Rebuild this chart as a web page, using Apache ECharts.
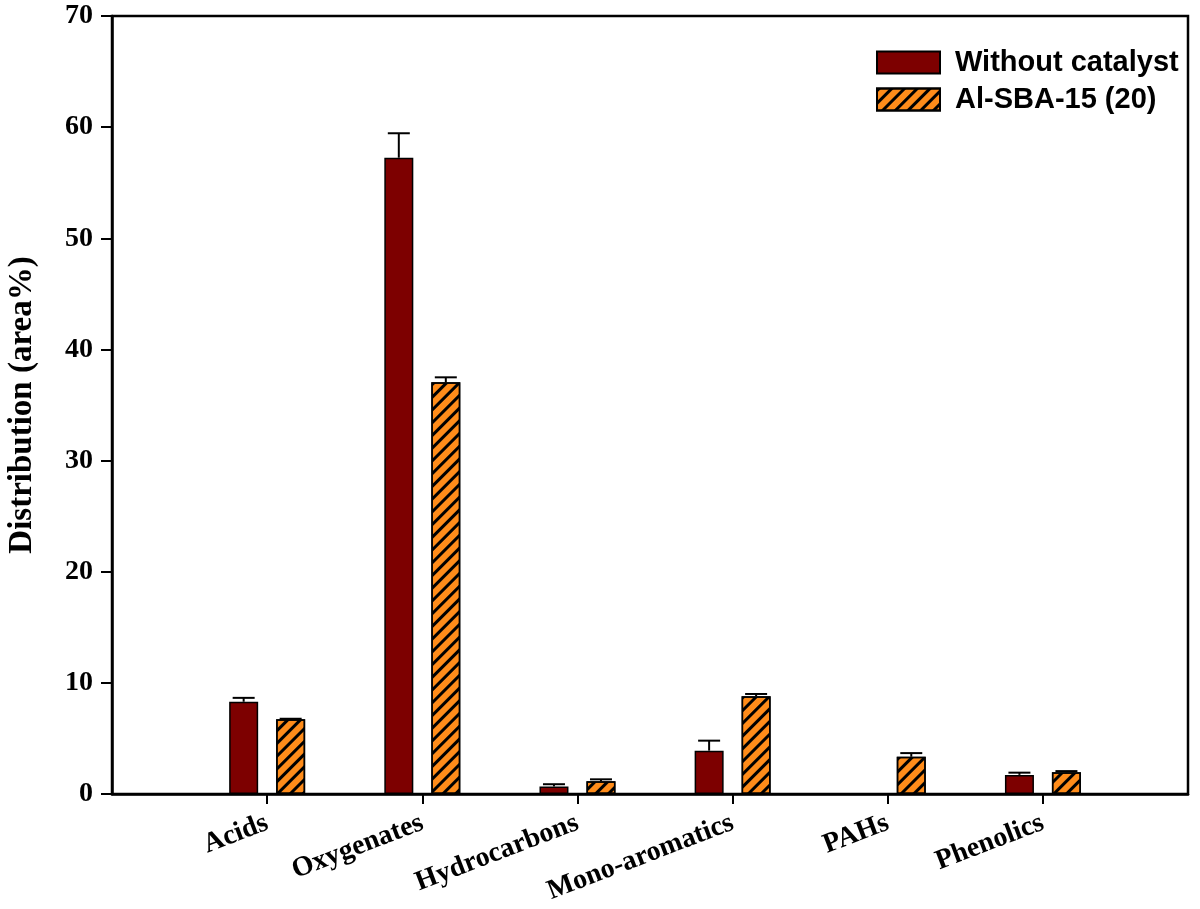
<!DOCTYPE html>
<html>
<head>
<meta charset="utf-8">
<script src="https://cdn.jsdelivr.net/npm/echarts@6/dist/echarts.min.js"></script>
<style>html,body{margin:0;padding:0;background:#fff}#c{width:1200px;height:909px}</style>
</head>
<body>
<div id="c"></div>
<script>
const categories = ['Acids', 'Oxygenates', 'Hydrocarbons', 'Mono-aromatics', 'PAHs', 'Phenolics'];
const seriesNames = ['Without catalyst', 'Al-SBA-15 (20)'];
const withoutCatalyst = [8.3, 57.25, 0.68, 3.9, 0, 1.72];
const withoutCatalystErr = [0.35, 2.2, 0.2, 0.9, 0, 0.2];
const alSba15 = [6.72, 37.04, 1.14, 8.8, 3.35, 1.96];
const alSba15Err = [0.05, 0.45, 0.18, 0.2, 0.33, 0.1];
const yTicks = [0, 10, 20, 30, 40, 50, 60, 70];

const BAR_W = 29, OFFSET = 23.5;
const positions = categories.map((c, i) => i + 1);

function barData(vals) { return vals.map((v, i) => [positions[i], v]); }
function errData(vals, errs) { return vals.map((v, i) => [positions[i], v, errs[i]]); }

function errRender(offset) {
  return function (params, api) {
    const err = api.value(2);
    if (!err) return;
    const p0 = api.coord([api.value(0), api.value(1)]);
    const p1 = api.coord([api.value(0), api.value(1) + err]);
    const cx = p0[0] + offset;
    const style = { stroke: '#000', lineWidth: 2 };
    return {
      type: 'group',
      children: [
        { type: 'line', shape: { x1: cx, y1: p0[1], x2: cx, y2: p1[1] }, style: style },
        { type: 'line', shape: { x1: cx - 11, y1: p1[1], x2: cx + 11, y2: p1[1] }, style: style }
      ]
    };
  };
}

const chart = echarts.init(document.getElementById('c'));
const serif = 'Liberation Serif, Times New Roman, serif';
chart.setOption({
  animation: false,
  backgroundColor: '#fff',
  grid: { left: 112, right: 12, top: 16, bottom: 115, containLabel: false, outerBoundsMode: 'none', show: true, borderColor: '#000', borderWidth: 2.5, backgroundColor: 'transparent' },
  legend: {
    orient: 'vertical', left: 871, top: 43, padding: 5, itemGap: 8,
    itemWidth: 63, itemHeight: 22, icon: 'rect',
    textStyle: { fontFamily: 'Liberation Sans, Arial, sans-serif', fontWeight: 'bold', fontSize: 29, color: '#000', padding: [0, 0, 0, 10] },
    data: seriesNames
  },
  xAxis: {
    type: 'value', min: 0, max: 6.935, interval: 1,
    splitLine: { show: false },
    axisLine: { lineStyle: { color: '#000', width: 2.5 } },
    axisTick: { customValues: positions, length: 10, lineStyle: { color: '#000', width: 2 } },
    axisLabel: {
      customValues: positions, rotate: 21, margin: 28,
      fontFamily: serif, fontWeight: 'bold', fontSize: 28, color: '#000',
      formatter: v => categories[Math.round(v) - 1] || ''
    }
  },
  yAxis: {
    type: 'value', min: 0, max: 70, interval: 10,
    name: 'Distribution (area%)', nameLocation: 'middle', nameGap: 73,
    nameTextStyle: { fontFamily: serif, fontWeight: 'bold', fontSize: 33, color: '#000' },
    splitLine: { show: false },
    axisLine: { lineStyle: { color: '#000', width: 2.5 } },
    axisTick: { length: 11, lineStyle: { color: '#000', width: 2 } },
    axisLabel: { customValues: yTicks, margin: 19, fontFamily: serif, fontWeight: 'bold', fontSize: 28, color: '#000' }
  },
  series: [
    {
      name: seriesNames[0], type: 'bar', barWidth: BAR_W, barGap: '62%',
      itemStyle: { color: '#7d0000', borderColor: '#000', borderWidth: 1.5 },
      data: barData(withoutCatalyst)
    },
    {
      name: seriesNames[1], type: 'bar', barWidth: BAR_W, barGap: '62%',
      itemStyle: {
        color: '#ff8c1a', borderColor: '#000', borderWidth: 1.5,
        decal: { symbol: 'rect', symbolSize: 1, color: '#000', dashArrayX: [1, 0], dashArrayY: [2.5, 6], rotation: -Math.PI / 4 }
      },
      data: barData(alSba15)
    },
    { type: 'custom', renderItem: errRender(-OFFSET), data: errData(withoutCatalyst, withoutCatalystErr), z: 5 },
    { type: 'custom', renderItem: errRender(OFFSET), data: errData(alSba15, alSba15Err), z: 5 }
  ]
});
</script>
</body>
</html>
